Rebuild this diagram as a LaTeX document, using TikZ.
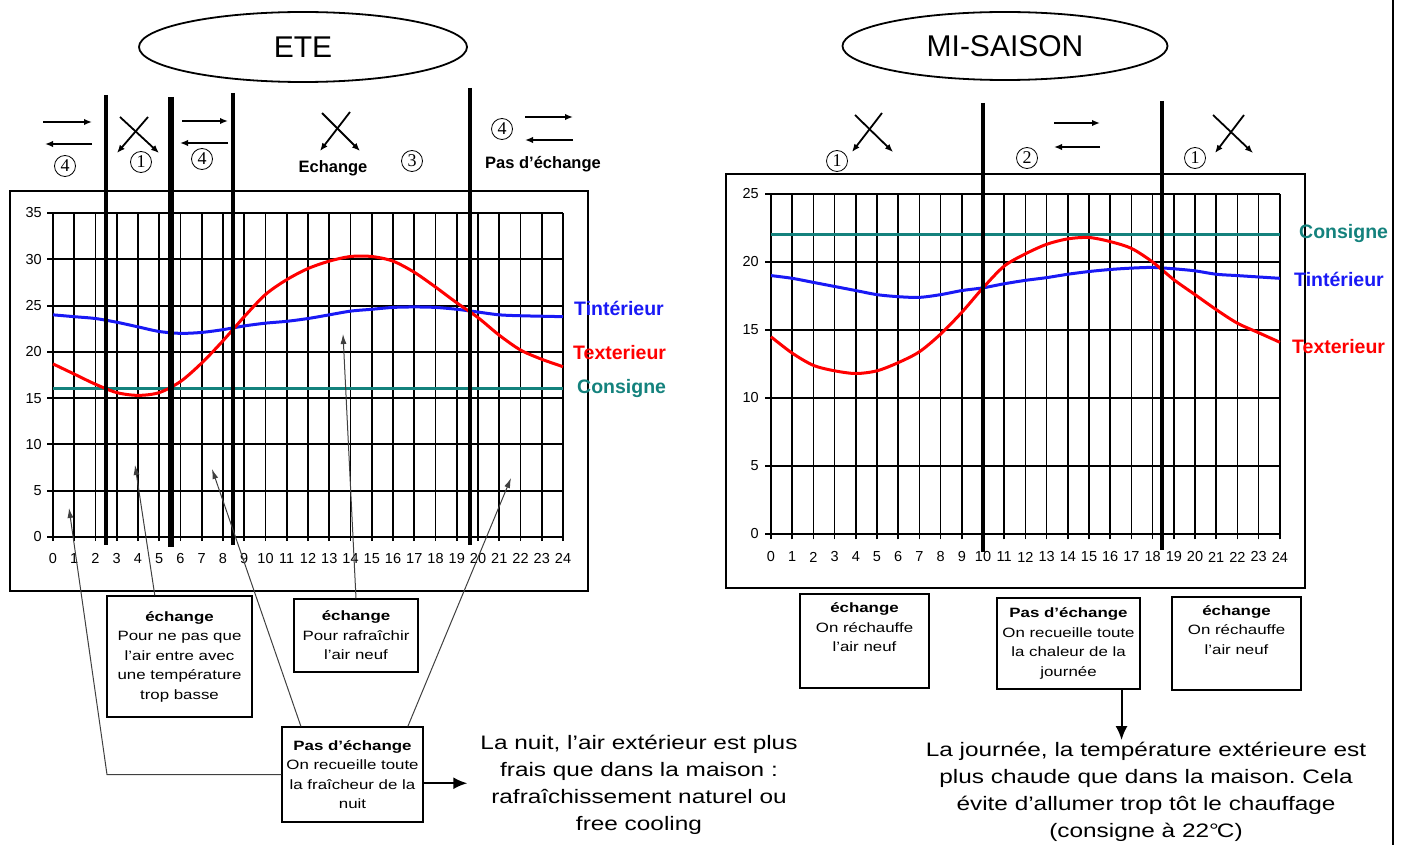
\documentclass[tikz,border=0pt]{standalone}
\usepackage{fontspec}
\setmainfont{Liberation Sans}
\newfontfamily\boxfont[FakeStretch=1.25]{Liberation Sans}
\newfontfamily\numfont{Liberation Serif}
\usetikzlibrary{arrows.meta,shapes.geometric}
\frenchspacing

\definecolor{consigne}{RGB}{20,130,125}
\definecolor{tint}{RGB}{25,25,245}

\tikzset{
  gridline/.style={line width=1.6pt},
  hgridline/.style={line width=2pt},
  sepline/.style={line width=4.5pt},
  frame/.style={line width=1.4pt},
  ticklbl/.style={font=\fontsize{14.5}{14.5}\selectfont, inner sep=0pt},
  tintcurve/.style={tint, line width=3pt},
  texcurve/.style={red, line width=3pt},
  consline/.style={consigne, line width=3.2pt},
  serieslbl/.style={font=\bfseries\fontsize{19.5}{20}\selectfont, anchor=west, inner sep=0pt},
  flow/.style={line width=1.8pt, -{Latex[length=8pt,width=6.5pt]}},
  circnum/.style={circle, draw, line width=0.8pt, minimum size=21pt, inner sep=0pt, font=\numfont\fontsize{18}{18}\selectfont},
  toplbl/.style={font=\bfseries\fontsize{16.5}{17}\selectfont, inner sep=0pt},
  infobox/.style={draw, line width=1.2pt, align=center, inner sep=0pt, font=\boxfont\fontsize{13.5}{19.5}\selectfont},
  leader/.style={line width=1pt, black!75, -{Latex[length=10pt,width=6pt]}},
  bigarrow/.style={line width=2pt, -{Latex[length=14pt,width=12pt]}},
  note/.style={align=center, font=\boxfont\fontsize{19.5}{27}\selectfont, inner sep=0pt},
  season/.style={draw, ellipse, line width=1.8pt, font=\fontsize{30}{30}\selectfont}
}

\begin{document}
\begin{tikzpicture}[x=1pt, y=-1pt]
  \useasboundingbox (0,0) rectangle (1407,845);

  \node [season, minimum width=328, minimum height=70] (ete) at (303,47) {ETE};
  \node [season, minimum width=325, minimum height=68] (misaison) at (1005,46) {MI-SAISON};
  \draw [line width=2pt] (1393,0) -- (1393,845);

  \draw [frame] (10,191) rectangle (588,591);
  \draw [frame] (726,174) rectangle (1305,588);

  \begin{scope}[shift={(53,537)}, x=21.25pt, y=9.257pt]
    \foreach \hh in {0,...,24} {
      \draw [gridline] (\hh,-0.45) -- (\hh,35);
      \node [ticklbl] (lxa\hh) at (\hh,-2.3) {\hh};
    }
    \foreach \yy in {0,5,...,35} {
      \draw [hgridline] (-0.27,\yy) -- (24,\yy);
      \node [ticklbl, anchor=east] (lya\yy) at (-0.52,\yy) {\yy};
    }
    \draw [consline] (0,16) -- (24,16);
    \draw [tintcurve] plot [smooth] coordinates {(0,24.0) (1,23.8) (2,23.6) (3,23.2) (4,22.7) (5,22.2) (6,22.0) (7,22.1) (8,22.4) (9,22.8) (10,23.1) (11,23.3) (12,23.6) (13,24.0) (14,24.4) (15,24.6) (16,24.8) (17,24.85) (18,24.8) (19,24.6) (20,24.3) (21,24.0) (22,23.9) (23,23.85) (24,23.8)};
    \draw [texcurve] plot [smooth] coordinates {(0,18.7) (1,17.6) (2,16.5) (3,15.6) (4,15.3) (5,15.6) (6,16.8) (7,18.8) (8,21.2) (9,23.8) (10,26.2) (11,27.8) (12,29.0) (13,29.8) (14,30.3) (15,30.3) (16,29.8) (17,28.6) (18,27.0) (19,25.3) (20,23.7) (21,21.8) (22,20.2) (23,19.2) (24,18.4)};
  \end{scope}

  \begin{scope}[shift={(771,534)}, x=21.2pt, y=13.6pt]
    \foreach \hh in {0,...,24} {
      \draw [gridline] (\hh,-0.4) -- (\hh,25);
      \node [ticklbl] (lxb\hh) at (\hh,-1.69) {\hh};
    }
    \foreach \yy in {0,5,...,25} {
      \draw [hgridline] (-0.27,\yy) -- (24,\yy);
      \node [ticklbl, anchor=east] (lyb\yy) at (-0.57,\yy) {\yy};
    }
    \draw [consline] (0,22) -- (24,22);
    \draw [tintcurve] plot [smooth] coordinates {(0,19.0) (1,18.8) (2,18.5) (3,18.2) (4,17.9) (5,17.6) (6,17.45) (7,17.4) (8,17.6) (9,17.9) (10,18.1) (11,18.4) (12,18.65) (13,18.85) (14,19.1) (15,19.3) (16,19.45) (17,19.55) (18,19.6) (19,19.5) (20,19.35) (21,19.1) (22,19.0) (23,18.9) (24,18.8)};
    \draw [texcurve] plot [smooth] coordinates {(0,14.5) (1,13.3) (2,12.4) (3,12.0) (4,11.8) (5,12.0) (6,12.6) (7,13.4) (8,14.7) (9,16.3) (10,18.1) (11,19.7) (12,20.6) (13,21.3) (14,21.7) (15,21.8) (16,21.5) (17,21.0) (18,20.0) (19,18.7) (20,17.6) (21,16.5) (22,15.5) (23,14.8) (24,14.1)};
  \end{scope}

  \draw [sepline] (106,95) -- (106,545);
  \draw [sepline, line width=6.5pt] (171,97) -- (171,547);
  \draw [sepline] (233,93) -- (233,545);
  \draw [sepline] (470,88) -- (470,545);
  \draw [sepline, line width=4pt] (983,103) -- (983,552);
  \draw [sepline, line width=4pt] (1162,101) -- (1162,550);

  \node [serieslbl, tint] (tinta) at (574,308) {Tintérieur};
  \node [serieslbl, red] (texa) at (573,353) {Texterieur};
  \node [serieslbl, consigne] (consa) at (577,388) {Consigne};
  \node [serieslbl, consigne] (consb) at (1299,234) {Consigne};
  \node [serieslbl, tint] (tintb) at (1294,279) {Tintérieur};
  \node [serieslbl, red] (texb) at (1292,347) {Texterieur};

  \draw [flow] (43,122) -- (92,122);
  \draw [flow] (92,144) -- (45,144);
  \node [circnum] (numa) at (65,166) {4};
  \draw [flow] (120,117) -- (159,153);
  \draw [flow] (148,117) -- (117,153);
  \node [circnum] (numb) at (141,162) {1};
  \draw [flow] (182,121) -- (228,121);
  \draw [flow] (228,143) -- (180,143);
  \node [circnum] (numc) at (202,159) {4};
  \draw [flow] (322,113) -- (360,151);
  \draw [flow] (350,112) -- (320,151);
  \node [toplbl] (echg) at (333,168) {Echange};
  \node [circnum] (numd) at (412,161) {3};
  \node [circnum] (nume) at (502,129) {4};
  \draw [flow] (525,117) -- (573,117);
  \draw [flow] (573,140) -- (525,140);
  \node [toplbl] (pasech) at (543,164) {Pas d’échange};

  \draw [flow] (855,115) -- (893,152);
  \draw [flow] (882,113) -- (852,152);
  \node [circnum] (numf) at (837,161) {1};
  \draw [flow] (1054,123) -- (1100,123);
  \draw [flow] (1100,147) -- (1054,147);
  \node [circnum] (numg) at (1027,158) {2};
  \draw [flow] (1213,115) -- (1253,153);
  \draw [flow] (1244,115) -- (1215,153);
  \node [circnum] (numh) at (1195,158) {1};

  \node [infobox, minimum width=145, minimum height=121] (boxA) at (179.5,656.5) {\textbf{échange}\\Pour ne pas que\\l’air entre avec\\une température\\trop basse};
  \node [infobox, minimum width=124, minimum height=73] (boxB) at (356,635.5) {\textbf{échange}\\Pour rafraîchir\\l’air neuf};
  \node [infobox, minimum width=141, minimum height=95] (boxC) at (352.5,774.5) {\textbf{Pas d’échange}\\On recueille toute\\la fraîcheur de la\\nuit};
  \node [infobox, minimum width=129, minimum height=94] (boxD) at (864.5,641) {\textbf{échange}\\On réchauffe\\l’air neuf\\[8pt]\mbox{}};
  \node [infobox, minimum width=143, minimum height=91] (boxE) at (1068.5,643.5) {\textbf{Pas d’échange}\\On recueille toute\\la chaleur de la\\journée};
  \node [infobox, minimum width=129, minimum height=93] (boxF) at (1236.5,643.5) {\textbf{échange}\\On réchauffe\\l’air neuf\\[8pt]\mbox{}};

  \node [note, inner xsep=13pt] (nightnote) at (639,785) {La nuit, l’air extérieur est plus\\frais que dans la maison :\\rafraîchissement naturel ou\\free cooling};
  \node [note, inner ysep=2pt] (daynote) at (1146,792) {La journée, la température extérieure est\\plus chaude que dans la maison. Cela\\évite d’allumer trop tôt le chauffage\\(consigne à 22°\kern-2ptC)};

  \coordinate (tipa) at (69,508);
  \coordinate (tipb) at (135,465);
  \coordinate (tipc) at (212,469);
  \coordinate (tipd) at (343,334);
  \coordinate (tipe) at (511,478);
  \coordinate (bend) at (107,774.5);
  \draw [leader] (boxC.west) -- (bend) -- (tipa);
  \draw [leader] (boxA.112) -- (tipb);
  \draw [leader] (boxC.137) -- (tipc);
  \draw [leader] (boxB.north) -- (tipd);
  \draw [leader] (boxC.41) -- (tipe);

  \draw [bigarrow] (boxC.-7) -- (boxC.-7 -| nightnote.west);
  \draw [bigarrow] (boxE.-41) -- (boxE.-41 |- daynote.north);
\end{tikzpicture}
\end{document}
